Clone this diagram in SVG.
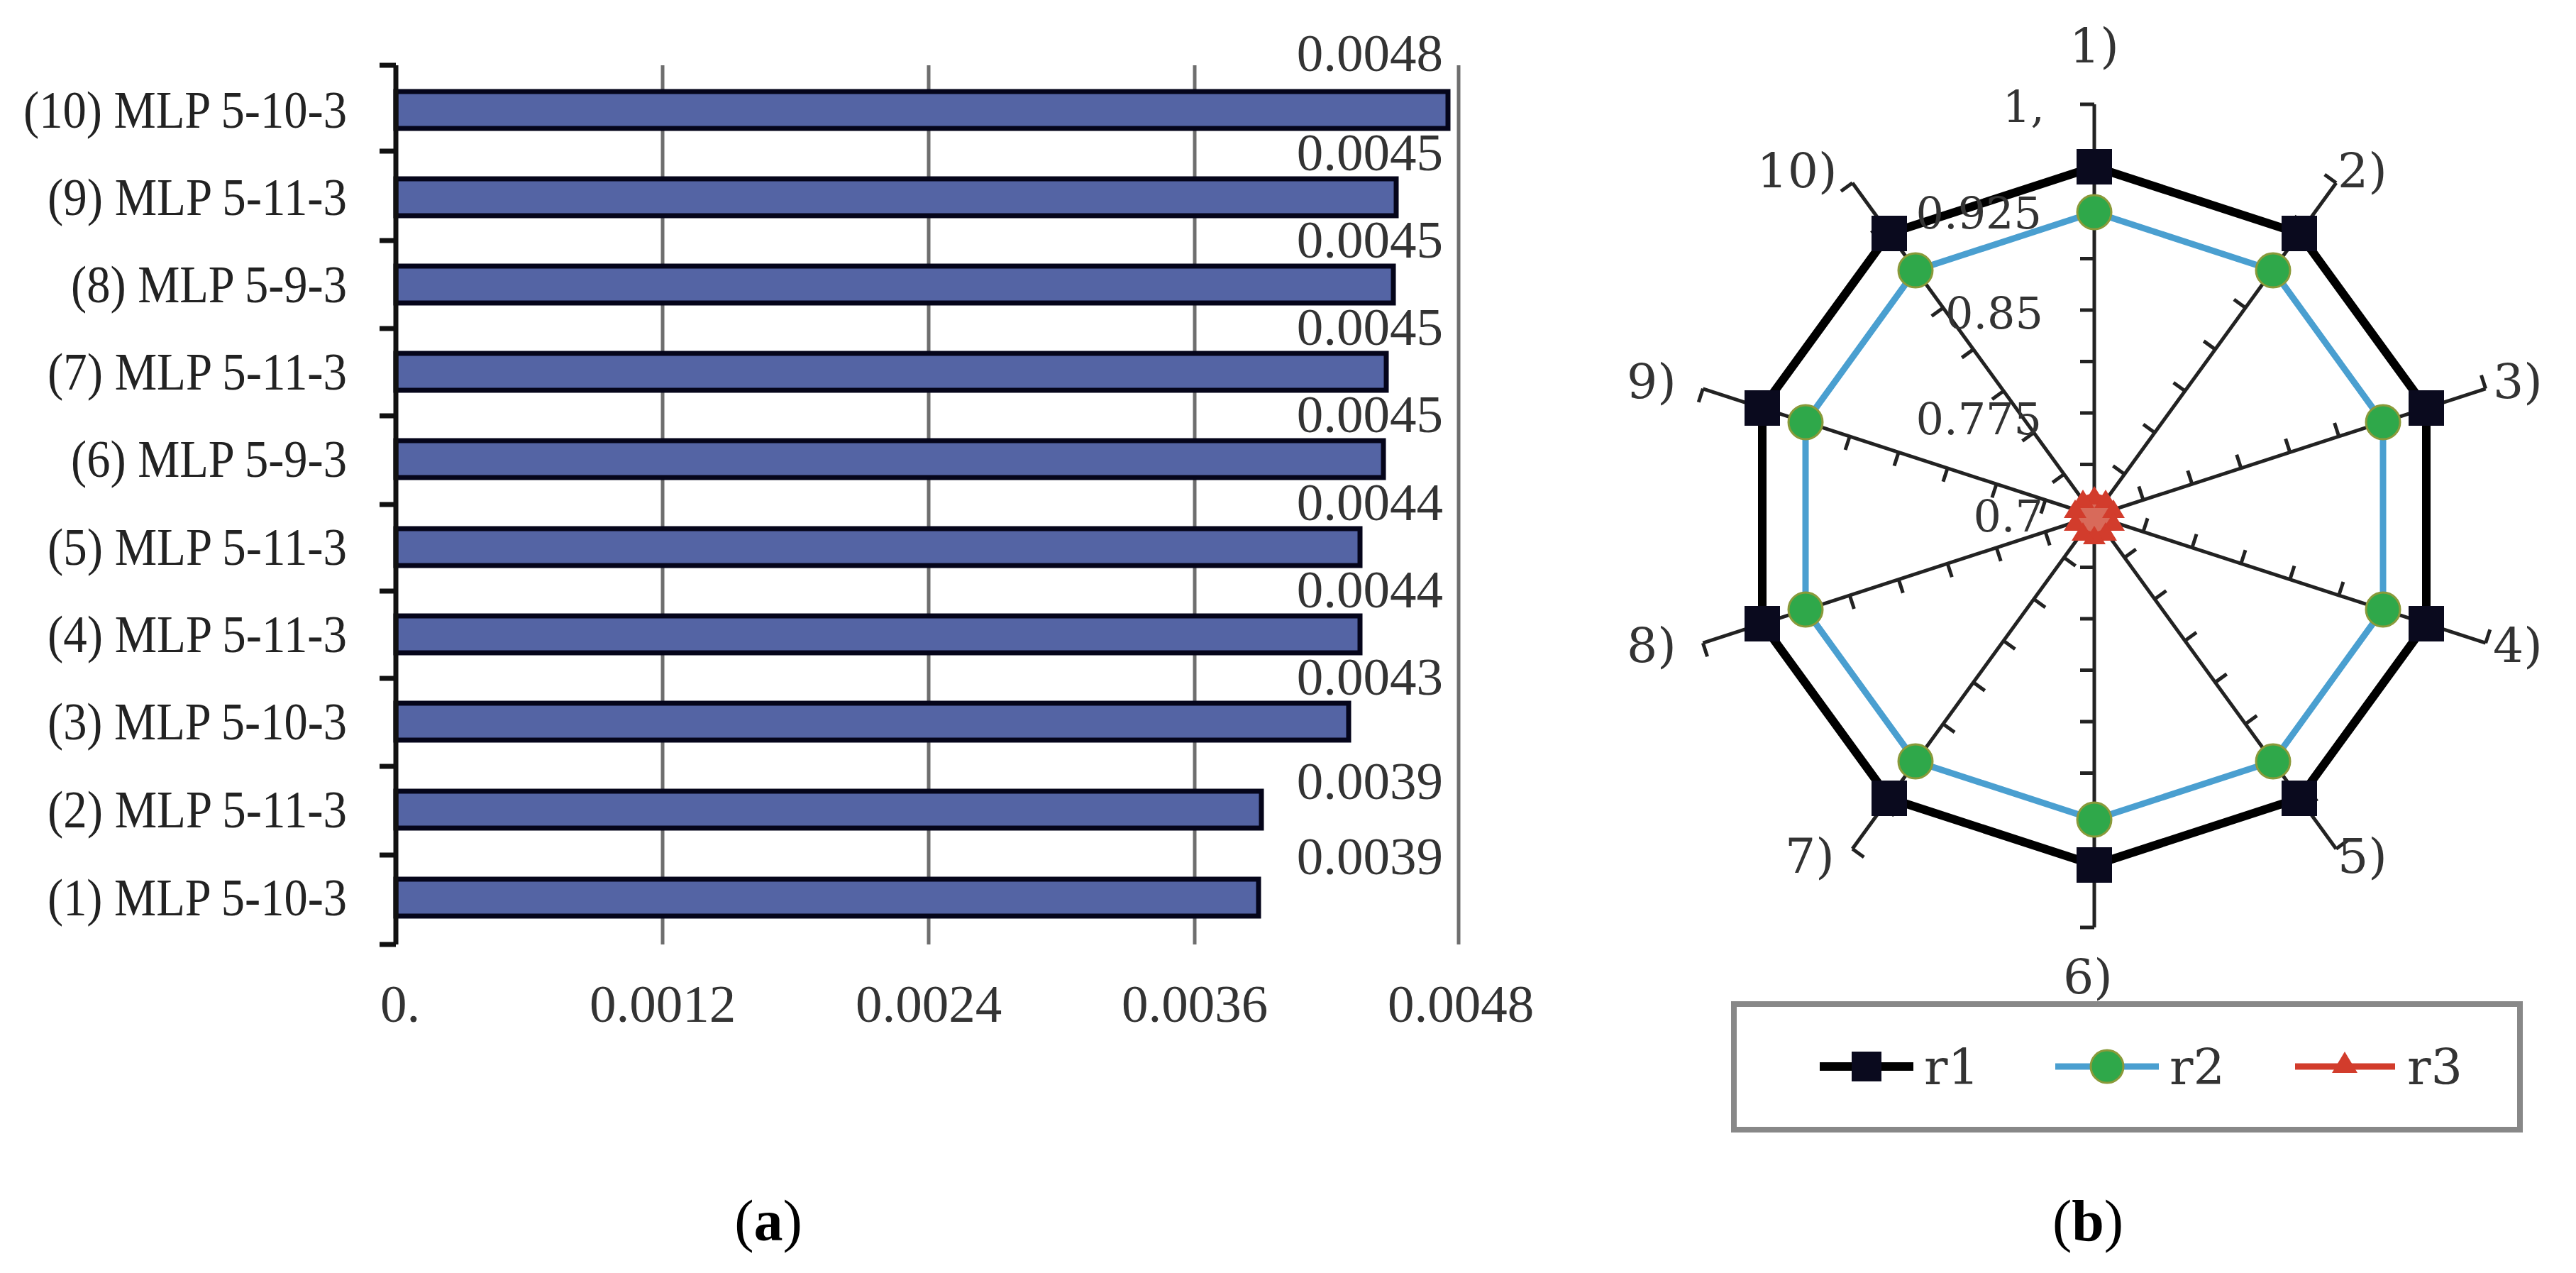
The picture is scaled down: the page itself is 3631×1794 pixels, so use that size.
<svg xmlns="http://www.w3.org/2000/svg" xmlns:xlink="http://www.w3.org/1999/xlink" width="3631" height="1794" viewBox="0 0 3631 1794">
<style>
.bar{fill:#5464a4;stroke:#05051a;stroke-width:7}
.grid{stroke:#6e6e6e;stroke-width:5}
.ax{stroke:#111;stroke-width:7;fill:none}
.cat{font-family:"Liberation Serif",serif;font-size:75px;fill:#222;text-anchor:end}
.val{font-family:"Liberation Serif",serif;font-size:75px;fill:#333;text-anchor:end}
.tk{font-family:"Liberation Serif",serif;font-size:75px;fill:#333;text-anchor:middle}
.rl{font-family:"DejaVu Serif",serif;font-size:68px;fill:#333;text-anchor:middle}
.rv{font-family:"DejaVu Serif",serif;font-size:62px;fill:#333;text-anchor:end}
.cap{font-family:"Liberation Serif",serif;font-size:82px;fill:#000;text-anchor:middle}
.sq{fill:#0a0a1e}
.ci{fill:#2fa84a;stroke:#8a9a3a;stroke-width:3}
.tr{fill:#d23c2c}
</style>
<defs>
<g id="axis">
<line x1="2952" y1="727" x2="2952" y2="147" stroke="#222" stroke-width="5"/>
<path d="M2932 654.5H2952M2932 582H2952M2932 509.5H2952M2932 437H2952M2932 364.5H2952M2932 292H2952M2932 219.5H2952M2932 147H2952" stroke="#222" stroke-width="5"/>
</g>
</defs>
<g id="bar-chart">
<g id="gridlines">
<line class="grid" x1="934" y1="92" x2="934" y2="1331"/>
<line class="grid" x1="1309" y1="92" x2="1309" y2="1331"/>
<line class="grid" x1="1684" y1="92" x2="1684" y2="1331"/>
<line class="grid" x1="2056" y1="92" x2="2056" y2="1331"/>
</g>
<g id="bars">
<rect class="bar" x="558" y="129" width="1483" height="52"/>
<rect class="bar" x="558" y="252" width="1410" height="52"/>
<rect class="bar" x="558" y="375" width="1406" height="52"/>
<rect class="bar" x="558" y="498" width="1396" height="52"/>
<rect class="bar" x="558" y="621" width="1392" height="52"/>
<rect class="bar" x="558" y="745" width="1359" height="52"/>
<rect class="bar" x="558" y="868" width="1359" height="52"/>
<rect class="bar" x="558" y="991" width="1343" height="52"/>
<rect class="bar" x="558" y="1115" width="1220" height="52"/>
<rect class="bar" x="558" y="1239" width="1216" height="52"/>
</g>
<path class="ax" d="M558 92V1331M535 92H558M535 213H558M535 339H558M535 463H558M535 586H558M535 711H558M535 833H558M535 956H558M535 1080H558M535 1205H558M535 1331H558"/>
<g id="categories">
<text class="cat" x="489" y="180" textLength="456" lengthAdjust="spacingAndGlyphs">(10) MLP 5-10-3</text>
<text class="cat" x="489" y="303" textLength="422" lengthAdjust="spacingAndGlyphs">(9) MLP 5-11-3</text>
<text class="cat" x="489" y="426" textLength="389" lengthAdjust="spacingAndGlyphs">(8) MLP 5-9-3</text>
<text class="cat" x="489" y="549" textLength="422" lengthAdjust="spacingAndGlyphs">(7) MLP 5-11-3</text>
<text class="cat" x="489" y="672" textLength="389" lengthAdjust="spacingAndGlyphs">(6) MLP 5-9-3</text>
<text class="cat" x="489" y="796" textLength="422" lengthAdjust="spacingAndGlyphs">(5) MLP 5-11-3</text>
<text class="cat" x="489" y="919" textLength="422" lengthAdjust="spacingAndGlyphs">(4) MLP 5-11-3</text>
<text class="cat" x="489" y="1042" textLength="422" lengthAdjust="spacingAndGlyphs">(3) MLP 5-10-3</text>
<text class="cat" x="489" y="1166" textLength="422" lengthAdjust="spacingAndGlyphs">(2) MLP 5-11-3</text>
<text class="cat" x="489" y="1290" textLength="422" lengthAdjust="spacingAndGlyphs">(1) MLP 5-10-3</text>
</g>
<g id="values">
<text class="val" x="2034" y="100">0.0048</text>
<text class="val" x="2034" y="240">0.0045</text>
<text class="val" x="2034" y="363">0.0045</text>
<text class="val" x="2034" y="486">0.0045</text>
<text class="val" x="2034" y="609">0.0045</text>
<text class="val" x="2034" y="733">0.0044</text>
<text class="val" x="2034" y="856">0.0044</text>
<text class="val" x="2034" y="979">0.0043</text>
<text class="val" x="2034" y="1126">0.0039</text>
<text class="val" x="2034" y="1232">0.0039</text>
</g>
<g id="x-ticks">
<text class="tk" x="564" y="1440">0.</text>
<text class="tk" x="934" y="1440">0.0012</text>
<text class="tk" x="1309" y="1440">0.0024</text>
<text class="tk" x="1684" y="1440">0.0036</text>
<text class="tk" x="2059" y="1440">0.0048</text>
</g>
<text class="cap" x="1083" y="1748">(<tspan font-weight="bold">a</tspan>)</text>
</g>
<g id="radar-chart">
<g id="radar-axes">
<use xlink:href="#axis"/>
<use xlink:href="#axis" transform="rotate(36 2952 727)"/>
<use xlink:href="#axis" transform="rotate(72 2952 727)"/>
<use xlink:href="#axis" transform="rotate(108 2952 727)"/>
<use xlink:href="#axis" transform="rotate(144 2952 727)"/>
<use xlink:href="#axis" transform="translate(0 1454) scale(1 -1)"/>
<use xlink:href="#axis" transform="rotate(216 2952 727)"/>
<use xlink:href="#axis" transform="rotate(252 2952 727)"/>
<use xlink:href="#axis" transform="rotate(288 2952 727)"/>
<use xlink:href="#axis" transform="rotate(324 2952 727)"/>
</g>
<g id="series-r1">
<polygon points="2952,235 3241,329 3420,575 3420,879 3241,1125 2952,1219 2663,1125 2484,879 2484,575 2663,329" fill="none" stroke="#000" stroke-width="12" stroke-linejoin="round"/>
<g class="sq">
<rect x="2927" y="210" width="50" height="50"/><rect x="3216" y="304" width="50" height="50"/><rect x="3395" y="550" width="50" height="50"/><rect x="3395" y="854" width="50" height="50"/><rect x="3216" y="1100" width="50" height="50"/><rect x="2927" y="1194" width="50" height="50"/><rect x="2638" y="1100" width="50" height="50"/><rect x="2459" y="854" width="50" height="50"/><rect x="2459" y="550" width="50" height="50"/><rect x="2638" y="304" width="50" height="50"/>
</g>
</g>
<g id="series-r2">
<polygon points="2952,299 3204,381 3359,595 3359,859 3204,1073 2952,1155 2700,1073 2545,859 2545,595 2700,381" fill="none" stroke="#4a9fd0" stroke-width="9" stroke-linejoin="round"/>
<g class="ci">
<circle cx="2952" cy="299" r="24"/><circle cx="3204" cy="381" r="24"/><circle cx="3359" cy="595" r="24"/><circle cx="3359" cy="859" r="24"/><circle cx="3204" cy="1073" r="24"/><circle cx="2952" cy="1155" r="24"/><circle cx="2700" cy="1073" r="24"/><circle cx="2545" cy="859" r="24"/><circle cx="2545" cy="595" r="24"/><circle cx="2700" cy="381" r="24"/>
</g>
</g>
<g id="series-r3">
<polygon points="2952,699 2968,704 2979,718 2979,736 2968,750 2952,755 2936,750 2925,736 2925,718 2936,704" fill="#d86a5a" stroke="#d23c2c" stroke-width="9"/>
<g class="tr">
<path d="M2952 685l16 26h-32z"/><path d="M2968 690l16 26h-32z"/><path d="M2979 704l16 26h-32z"/><path d="M2979 722l16 26h-32z"/><path d="M2968 736l16 26h-32z"/><path d="M2952 741l16 26h-32z"/><path d="M2936 736l16 26h-32z"/><path d="M2925 722l16 26h-32z"/><path d="M2925 704l16 26h-32z"/><path d="M2936 690l16 26h-32z"/>
</g>
</g>
<g id="axis-values">
<text class="rv" x="2882" y="172">1,</text>
<text class="rv" x="2878" y="322">0.925</text>
<text class="rv" x="2880" y="463">0.85</text>
<text class="rv" x="2878" y="612">0.775</text>
<text class="rv" x="2880" y="749">0.7</text>
</g>
<g id="axis-labels">
<text class="rl" x="2952" y="88">1)</text>
<text class="rl" x="3330" y="264">2)</text>
<text class="rl" x="3549" y="561">3)</text>
<text class="rl" x="3549" y="933">4)</text>
<text class="rl" x="3330" y="1230">5)</text>
<text class="rl" x="2943" y="1400">6)</text>
<text class="rl" x="2551" y="1230">7)</text>
<text class="rl" x="2328" y="933">8)</text>
<text class="rl" x="2328" y="561">9)</text>
<text class="rl" x="2533" y="264">10)</text>
</g>
<g id="legend">
<rect x="2444" y="1415" width="1108" height="177" fill="#fff" stroke="#888" stroke-width="8"/>
<line x1="2565" y1="1503" x2="2697" y2="1503" stroke="#000" stroke-width="12"/>
<rect class="sq" x="2610" y="1482" width="42" height="42"/>
<text x="2712" y="1528" font-family="DejaVu Serif, serif" font-size="70" fill="#333">r1</text>
<line x1="2897" y1="1503" x2="3043" y2="1503" stroke="#4a9fd0" stroke-width="9"/>
<circle class="ci" cx="2970" cy="1503" r="23"/>
<text x="3058" y="1528" font-family="DejaVu Serif, serif" font-size="70" fill="#333">r2</text>
<line x1="3235" y1="1503" x2="3376" y2="1503" stroke="#d23c2c" stroke-width="9"/>
<path class="tr" d="M3305 1482l18 30h-36z"/>
<text x="3393" y="1528" font-family="DejaVu Serif, serif" font-size="70" fill="#333">r3</text>
</g>
<text class="cap" x="2943" y="1748">(<tspan font-weight="bold">b</tspan>)</text>
</g>
</svg>
